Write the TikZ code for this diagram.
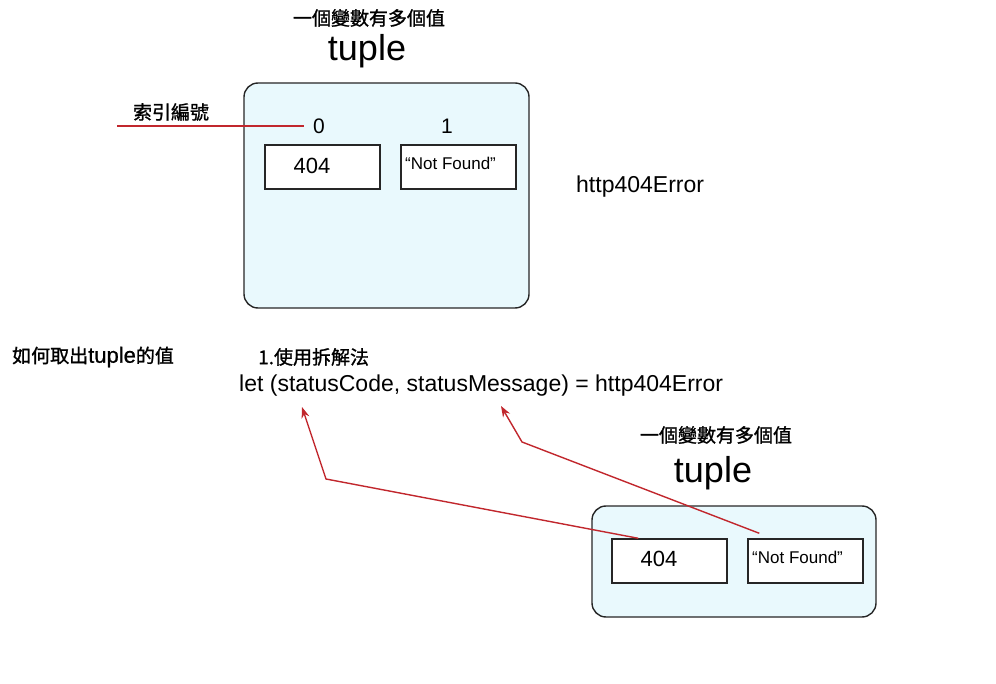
\documentclass[tikz,border=0pt]{standalone}
\usepackage{fontspec}
\setmainfont{Liberation Sans}
\newfontfamily\cjk[FakeBold=1.2]{Noto Sans CJK TC}
\newfontfamily\latb[FakeBold=0.8]{Liberation Sans}
\usetikzlibrary{arrows.meta,calc}
\definecolor{boxfill}{HTML}{E9F9FD}
\definecolor{redline}{HTML}{C1272D}
\tikzset{
  outerbox/.style={draw=black!85, line width=1.4pt, fill=boxfill, rounded corners=14pt},
  cellbox/.style={draw=black!85, line width=1.4pt, fill=white},
  txt/.style={inner sep=0pt, text=black},
  redarrow/.style={draw=redline, line width=1.4pt, -{Stealth[length=11pt,width=8pt]}},
  redplain/.style={draw=redline, line width=1.6pt},
}
\newcommand{\fs}[1]{\fontsize{#1}{#1}\selectfont}
\begin{document}
\begin{tikzpicture}[x=1pt,y=-1pt]
\useasboundingbox (0,0) rectangle (996,684);
% ---------- top tuple ----------
\node[txt] (t1title) at (369,18) {\fs{19}\cjk 一個變數有多個值};
\node[txt] (t1name) at (367,51) {\fs{36}tuple};
\path[outerbox] (244,83) rectangle (529,308);
\node[cellbox, minimum width=115pt, minimum height=44pt, inner sep=0pt] (c0) at (322.5,167) {};
\node[cellbox, minimum width=115pt, minimum height=44pt, inner sep=0pt] (c1) at (458.5,167) {};
\node[txt] (v0) at (312,166) {\fs{22}404};
\node[txt, anchor=west] (v1) at (405,163) {\fs{17}“Not Found”};
\node[txt] (i0) at (319,126) {\fs{21}0};
\node[txt] (i1) at (447,126) {\fs{21}1};
\node[txt] (idx) at (171,112) {\fs{19}\cjk 索引編號};
\coordinate (idxstart) at (117,126);
\draw[redplain] (idxstart) -- ([xshift=-9pt]i0.west);
\node[txt, anchor=west] (var) at (576,187) {\fs{23}http404Error};
% ---------- middle text ----------
\node[txt, anchor=west] (how) at (12,357) {\fs{19}\cjk 如何取出{\fs{22}\latb tuple}的值};
\node[txt, anchor=west] (m1) at (258,357) {\fs{19}\cjk 1.使用拆解法};
\node[txt, anchor=west] (letl) at (239,386) {\fs{23}let (statusCode, statusMessage) = http404Error};
% ---------- bottom tuple ----------
\node[txt] (t2title) at (716,435) {\fs{19}\cjk 一個變數有多個值};
\node[txt] (t2name) at (713,473) {\fs{36}tuple};
\path[outerbox] (592,506) rectangle (876,617);
\node[cellbox, minimum width=115pt, minimum height=44pt, inner sep=0pt] (b0) at (669.5,561) {};
\node[cellbox, minimum width=115pt, minimum height=44pt, inner sep=0pt] (b1) at (805.5,561) {};
\node[txt] (w0) at (659,559) {\fs{22}404};
\node[txt, anchor=west] (w1) at (752,557) {\fs{17}“Not Found”};
% ---------- arrows ----------
\coordinate (s1) at ([xshift=27pt]b0.north west);
\coordinate (k1) at (326,479);
\coordinate (e1) at (302,407);
\coordinate (s2) at ([xshift=12pt,yshift=5pt]b1.north west);
\coordinate (k2) at (522,442);
\coordinate (e2) at (501,406);
\draw[redarrow] (s1) -- (k1) -- (e1);
\draw[redarrow] (s2) -- (k2) -- (e2);
\end{tikzpicture}
\end{document}
